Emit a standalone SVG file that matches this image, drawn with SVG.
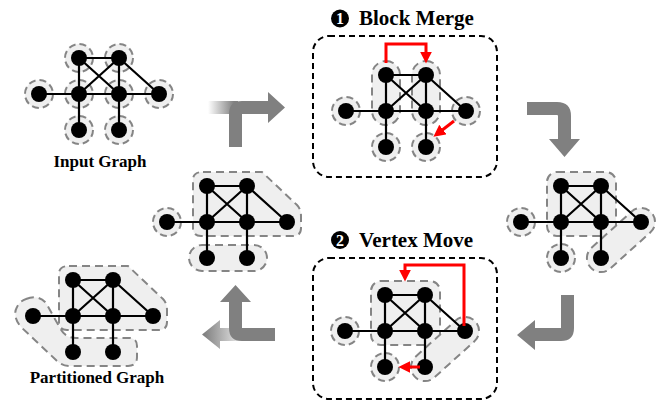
<svg xmlns="http://www.w3.org/2000/svg" xmlns:xlink="http://www.w3.org/1999/xlink" width="672" height="406" viewBox="0 0 672 406">
  <style>
    .edge { stroke: #000; stroke-width: 2.2; fill: none; }
    .vtx { fill: #000; }
    .halo { fill: #efefef; stroke: #858585; stroke-width: 2; stroke-dasharray: 7 4; }
    .part { fill: #efefef; stroke: #858585; stroke-width: 2; stroke-dasharray: 8 5; }
    .stage { fill: none; stroke: #000; stroke-width: 2; stroke-dasharray: 6 4; }
    .flow { fill: #808080; }
    .move { fill: none; stroke: #f00; stroke-width: 3; }
    .label { font-family: "Liberation Serif", "Times New Roman", serif; font-weight: bold; fill: #000; }
    .num { font-family: "Liberation Serif", "Times New Roman", serif; font-weight: bold; fill: #fff; font-size: 16px; }
  </style>
  <defs>
    <!-- base graph: ML vertex at the origin, 40px columns, 36px rows -->
    <g id="g-base">
      <path class="edge" d="M0,-36 H40 M0,-36 V36 M40,-36 V36 M0,-36 L40,0 M40,-36 L0,0 M40,-36 L80,0 M-40,0 H80"/>
      <circle class="vtx" cx="-40" cy="0" r="8"/>
      <circle class="vtx" cx="0" cy="0" r="8"/>
      <circle class="vtx" cx="40" cy="0" r="8"/>
      <circle class="vtx" cx="80" cy="0" r="8"/>
      <circle class="vtx" cx="0" cy="-36" r="8"/>
      <circle class="vtx" cx="40" cy="-36" r="8"/>
      <circle class="vtx" cx="0" cy="36" r="8"/>
      <circle class="vtx" cx="40" cy="36" r="8"/>
    </g>
    <circle id="h" class="halo" r="14"/>
    <marker id="red-head" viewBox="0 0 10 10" refX="2" refY="5" markerWidth="4" markerHeight="4" orient="auto" markerUnits="strokeWidth">
      <path d="M0,0 L10,5 L0,10 Z" fill="#f00"/>
    </marker>
    <linearGradient id="fade-in" x1="208" y1="0" x2="234" y2="0" gradientUnits="userSpaceOnUse">
      <stop offset="0" stop-color="#ffffff"/>
      <stop offset="1" stop-color="#808080"/>
    </linearGradient>
    <linearGradient id="fade-out" x1="204" y1="0" x2="240" y2="0" gradientUnits="userSpaceOnUse">
      <stop offset="0" stop-color="#808080"/>
      <stop offset="1" stop-color="#e6e6e6"/>
    </linearGradient>
  </defs>

  <!-- Input graph -->
  <g id="input-graph">
    <g transform="translate(79,94)">
      <use xlink:href="#h" x="-40" y="0"/>
      <use xlink:href="#h" x="0" y="0"/>
      <use xlink:href="#h" x="40" y="0"/>
      <use xlink:href="#h" x="80" y="0"/>
      <use xlink:href="#h" x="0" y="-36"/>
      <use xlink:href="#h" x="40" y="-36"/>
      <use xlink:href="#h" x="0" y="36"/>
      <use xlink:href="#h" x="40" y="36"/>
      <use xlink:href="#g-base"/>
    </g>
    <text class="label" x="100" y="167" font-size="17" text-anchor="middle">Input Graph</text>
  </g>

  <!-- Step 1: block merge -->
  <g id="block-merge">
    <circle cx="340" cy="18.5" r="9" fill="#000"/>
    <text class="num" x="340" y="24" text-anchor="middle">1</text>
    <text class="label" x="359" y="25" font-size="21">Block Merge</text>
    <rect class="stage" x="313" y="36" width="184" height="141" rx="16"/>
    <g transform="translate(386,111)">
      <rect class="part" x="-14" y="-50" width="28" height="64" rx="14"/>
      <rect class="part" x="26" y="-50" width="28" height="64" rx="14"/>
      <use xlink:href="#h" x="-40" y="0"/>
      <use xlink:href="#h" x="80" y="0"/>
      <use xlink:href="#h" x="0" y="36"/>
      <use xlink:href="#h" x="40" y="36"/>
      <use xlink:href="#g-base"/>
    </g>
    <path class="move" d="M386,63 V44 H426 V54" marker-end="url(#red-head)"/>
    <path class="move" d="M454,121 L441,131" marker-end="url(#red-head)"/>
  </g>

  <!-- Graph after block merge -->
  <g id="merged-graph">
    <g transform="translate(561,222)">
      <rect class="part" x="-14" y="-50" width="69" height="64" rx="10"/>
      <rect class="part" x="-41" y="-14" width="82" height="28" rx="14" transform="translate(60,18) rotate(-42)"/>
      <use xlink:href="#h" x="-40" y="0"/>
      <use xlink:href="#h" x="0" y="36"/>
      <use xlink:href="#g-base"/>
    </g>
  </g>

  <!-- Step 2: vertex move -->
  <g id="vertex-move">
    <circle cx="340" cy="240" r="9" fill="#000"/>
    <text class="num" x="340" y="245.5" text-anchor="middle">2</text>
    <text class="label" x="359" y="247" font-size="21">Vertex Move</text>
    <rect class="stage" x="313" y="258" width="184" height="141" rx="16"/>
    <g transform="translate(385,331)">
      <rect class="part" x="-14" y="-50" width="69" height="64" rx="10"/>
      <rect class="part" x="-41" y="-14" width="82" height="28" rx="14" transform="translate(60,18) rotate(-42)"/>
      <use xlink:href="#h" x="-40" y="0"/>
      <use xlink:href="#h" x="0" y="36"/>
      <use xlink:href="#g-base"/>
    </g>
    <path class="move" d="M464,326 V265 H405 V272" marker-end="url(#red-head)"/>
    <path class="move" d="M420,367 H408" marker-end="url(#red-head)"/>
  </g>

  <!-- Graph after vertex move -->
  <g id="moved-graph">
    <g transform="translate(207,222)">
      <path class="part" d="M-4,-50 L55,-50 L90,-17 Q94,-13 94,-6 L94,6 Q94,14 86,14 L-6,14 Q-14,14 -14,6 L-14,-42 Q-14,-50 -4,-50 Z"/>
      <rect class="part" x="-18" y="23" width="78" height="26" rx="13"/>
      <use xlink:href="#h" x="-40" y="0"/>
      <use xlink:href="#g-base"/>
    </g>
  </g>

  <!-- Partitioned graph -->
  <g id="partitioned-graph">
    <path class="part" d="M26,299 Q38,294 46,303 L60,328 Q65,338 76,338 L129,338 Q137,338 137,346 L137,357 Q137,366 128,366 L70,366 Q62,366 56,360 L21,327 Q12,316 17,307 Q20,301 26,299 Z"/>
    <g transform="translate(73,316)">
      <path class="part" d="M-4,-50 L55,-50 L90,-17 Q94,-13 94,-6 L94,6 Q94,14 86,14 L-6,14 Q-14,14 -14,6 L-14,-42 Q-14,-50 -4,-50 Z"/>
      <use xlink:href="#g-base"/>
    </g>
    <text class="label" x="97" y="383" font-size="17" text-anchor="middle">Partitioned Graph</text>
  </g>

  <!-- Flow arrows between stages -->
  <g id="connectors">
    <rect x="208" y="101" width="30" height="13" fill="url(#fade-in)"/>
    <path class="flow" d="M229,147 L229,114 Q229,101 242,101 L268,101 L268,92 L285,107.5 L268,123 L268,114 L242,114 L242,147 Z"/>
    <path class="flow" d="M527,102 L557,102 Q571,102 571,116 L571,139 L580,139 L564.5,157 L549,139 L558,139 L558,116 Q558,115 557,115 L527,115 Z"/>
    <path class="flow" d="M561,295 L574,295 L574,328 Q574,341 561,341 L535,341 L535,350 L517,335 L535,320 L535,328 L561,328 Z"/>
    <path d="M202,334.5 L220,320 L220,328 L242,328 L242,341 L220,341 L220,349 Z" fill="url(#fade-out)"/>
    <path class="flow" d="M275,328 L242,328 L242,302 L251,302 L235.5,285 L220,302 L229,302 L229,328 Q229,341 242,341 L275,341 Z"/>
  </g>
</svg>
